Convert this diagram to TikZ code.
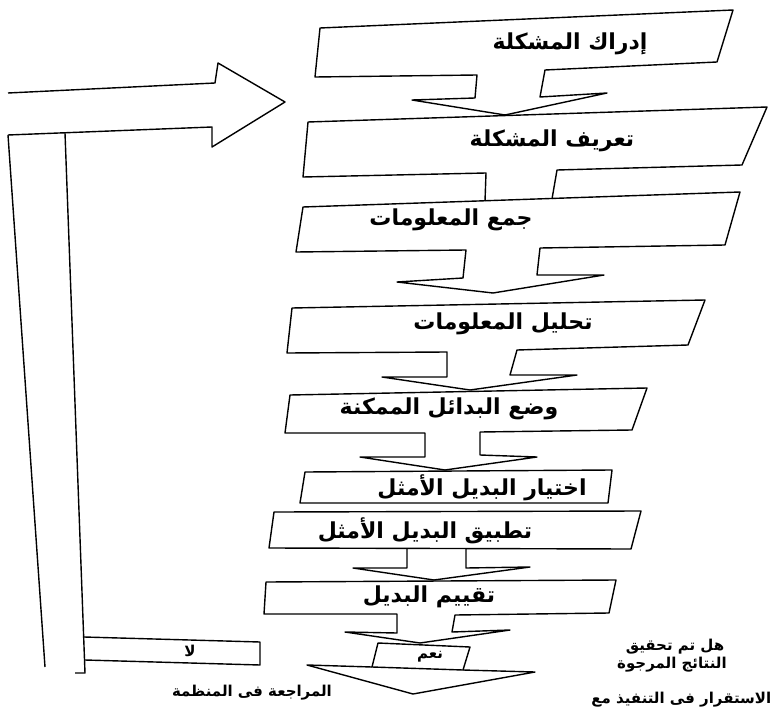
\documentclass[tikz,border=0pt]{standalone}
\usepackage{fontspec}
\newfontfamily\arabicfont[Script=Arabic]{DejaVu Sans}
\TeXXeTstate=1
\tikzset{
  steptext/.style={font=\arabicfont\bfseries\fontsize{22}{26}\selectfont, inner sep=0pt},
  notetext/.style={font=\arabicfont\bfseries\fontsize{15}{18}\selectfont, inner sep=0pt}
}
\begin{document}
\begin{tikzpicture}[x=1pt,y=-1pt,line width=1.4pt,line join=round]
                \useasboundingbox (0,0) rectangle (773,714);
                % return path: big arrow into the first step
                \draw (8,93) -- (215,83) -- (218,63) -- (285,102) -- (212,147) -- (212,127) -- (8,135);
                \draw (8,135) -- (45,667);
                \draw (65,133) -- (85,673) -- (75,673);
                \draw (84,637) -- (260,642) -- (260,665) -- (85,660);
                % steps with their arrows
                \draw (477,75) -- (315,77) -- (320,28) -- (733,10) -- (717,62) -- (545,70) -- (540,97)
                    -- (607,93) -- (505,115) -- (412,100) -- (475,98) -- cycle;
                \draw (485,201) -- (486,173) -- (303,177) -- (308,122) -- (767,107) -- (742,165)
                    -- (557,170) -- (552,199);
                \draw (466,250) -- (296,252) -- (303,207) -- (740,192) -- (725,245) -- (540,248) -- (537,275)
                    -- (604,275) -- (493,293) -- (397,282) -- (463,278) -- cycle;
                \draw (447,352) -- (287,353) -- (292,308) -- (705,300) -- (688,345) -- (517,350) -- (510,375)
                    -- (577,375) -- (470,390) -- (382,377) -- (447,377) -- cycle;
                \draw (425,433) -- (285,433) -- (290,395) -- (647,388) -- (632,430) -- (480,432) -- (480,455)
                    -- (537,457) -- (445,470) -- (360,457) -- (425,457) -- cycle;
                \draw (300,503) -- (305,472) -- (612,470) -- (608,503) -- cycle;
                \draw (274,512) -- (641,511) -- (631,549) -- (269,548) -- cycle;
                \draw (407,549) -- (407,568) -- (353,568) -- (434,580) -- (530,567) -- (466,568) -- (466,549);
                \draw (397,614) -- (264,614) -- (266,582) -- (616,580) -- (609,613) -- (455,615) -- (452,632)
                    -- (510,630) -- (420,643) -- (345,632) -- (397,633) -- cycle;
                % decision
                \draw (378,643) -- (470,647) -- (463,670) -- (372,667) -- cycle;
                \draw (372,667) -- (307,665) -- (413,694) -- (535,672) -- (463,670);
                % texts
                \node[steptext] (idrak) at (570,44) {\beginR إدراك المشكلة\endR};
                \node[steptext] (taarif) at (552,141) {\beginR تعريف المشكلة\endR};
                \node[steptext] (jamm) at (451,220) {\beginR جمع المعلومات\endR};
                \node[steptext] (tahlil) at (503,324) {\beginR تحليل المعلومات\endR};
                \node[steptext] (wad) at (449,409) {\beginR وضع البدائل الممكنة\endR};
                \node[steptext] (ikhtiyar) at (482,488) {\beginR اختيار البديل الأمثل\endR};
                \node[steptext] (tatbiq) at (425,531) {\beginR تطبيق البديل الأمثل\endR};
                \node[steptext] (taqyim) at (429,597) {\beginR تقييم البديل\endR};
                \node[notetext] (naam) at (430,657) {\beginR نعم\endR};
                \node[notetext] (la) at (190,651) {\beginR لا\endR};
                \node[notetext] (muraja) at (252,693) {\beginR المراجعة فى المنظمة\endR};
                \node[notetext] (hal) at (675,647) {\beginR هل تم تحقيق\endR};
                \node[notetext] (nataij) at (672,665) {\beginR النتائج المرجوة\endR};
                \node[notetext, anchor=east] (istiqrar) at (772,700) {\beginR الاستقرار فى التنفيذ مع\endR};
\end{tikzpicture}
\end{document}
